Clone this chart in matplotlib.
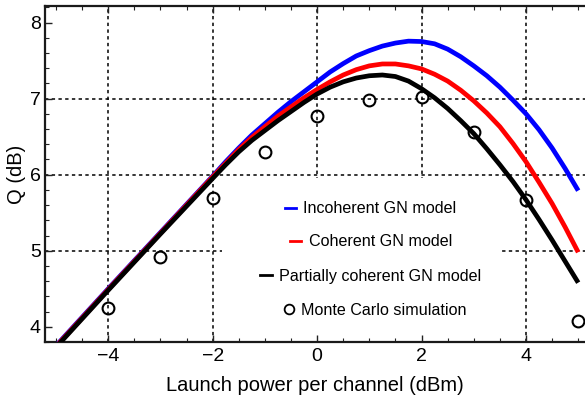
import matplotlib
matplotlib.use("Agg")
import matplotlib.pyplot as plt
from matplotlib.lines import Line2D
from matplotlib.legend import Legend
from matplotlib.patches import Rectangle

plt.rcParams['font.family'] = ['Liberation Sans', 'DejaVu Sans']

# ---- data ----
power = [-5, -4, -3, -2, -1.75, -1.5, -1.25,
         -1, -0.75, -0.5, -0.25, 0, 0.25, 0.5, 0.75, 1, 1.25, 1.5, 1.75,
         2, 2.25, 2.5, 2.75, 3, 3.25, 3.5, 3.75, 4, 4.25, 4.5, 4.75, 5]
q_incoherent = [3.75, 4.50, 5.24, 5.98, 6.17, 6.35, 6.52,
                6.67, 6.82, 6.96, 7.09, 7.22, 7.35, 7.46, 7.56, 7.63, 7.69, 7.73, 7.755,
                7.75, 7.72, 7.65, 7.55, 7.43, 7.30, 7.15, 6.98, 6.80, 6.59, 6.35, 6.08, 5.79]
q_coherent = [3.74, 4.49, 5.23, 5.97, 6.15, 6.33, 6.49,
              6.63, 6.77, 6.89, 7.01, 7.12, 7.22, 7.31, 7.38, 7.43, 7.455, 7.455, 7.43,
              7.39, 7.32, 7.23, 7.11, 6.97, 6.81, 6.63, 6.41, 6.17, 5.90, 5.62, 5.31, 4.98]
q_partial = [3.73, 4.48, 5.22, 5.95, 6.13, 6.30, 6.45,
             6.58, 6.71, 6.83, 6.95, 7.06, 7.15, 7.22, 7.27, 7.30, 7.31, 7.29, 7.23,
             7.13, 7.01, 6.87, 6.71, 6.54, 6.34, 6.13, 5.91, 5.67, 5.41, 5.14, 4.86, 4.58]

mc_power = [-4, -3, -2, -1, 0, 1, 2, 3, 4, 5]
mc_q = [4.25, 4.92, 5.69, 6.30, 6.77, 6.98, 7.02, 6.56, 5.67, 4.07]

x_grid = [-4, -2, 0, 2, 4]
y_grid = [5, 6, 7]

labels = ["Incoherent GN model", "Coherent GN model",
          "Partially coherent GN model", "Monte Carlo simulation"]

# ---- figure ----
fig = plt.figure(figsize=(5.85, 3.96), dpi=100)
ax = fig.add_axes([45/585, 54/396, 540/585, 336/396])

ax.set_xlim(-5.21, 5.13)
ax.set_ylim(3.923, 8.217)

grid_kw = dict(color='black', lw=1.1, ls=(0, (2.2, 2.2)), zorder=1)
for gx in x_grid:
    ax.axvline(gx, **grid_kw)
for gy in y_grid:
    ax.axhline(gy, **grid_kw)

# white legend background covering grid
ax.add_patch(Rectangle((0.328, 0.0), 0.515, 0.488, transform=ax.transAxes,
                       facecolor='white', edgecolor='none', zorder=1.5))

lw = 3.4
for ys, c in [(q_incoherent, '#0000ff'), (q_coherent, '#ff0000'), (q_partial, 'black')]:
    ax.plot(power, ys, color=c, lw=lw, zorder=3, solid_capstyle='butt',
            solid_joinstyle='round')
ax.plot(mc_power, mc_q, ls='none', marker='o', ms=8.5, mfc='none', mec='black',
        mew=1.5, zorder=4, clip_on=False)

# ticks
ax.set_xticks([-4, -2, 0, 2, 4])
ax.set_xticks([v * 0.5 for v in range(-10, 11)], minor=True)
ax.set_yticks([4, 5, 6, 7, 8])
ax.set_yticks([4 + 0.2 * i for i in range(-1, 22)], minor=True)
ax.tick_params(which='both', direction='in', top=True, right=False,
               labelsize=14, colors='#222222', labelcolor='black')
ax.tick_params(which='major', length=5, width=1)
ax.tick_params(which='minor', length=3, width=0.8)
ax.tick_params(axis='y', pad=3)
ax.tick_params(axis='x', pad=4)

for s in ['left', 'bottom', 'top']:
    ax.spines[s].set_linewidth(1.6)
    ax.spines[s].set_color('#1a1a1a')
ax.spines['right'].set_visible(False)

ax.set_xlabel("Launch power per channel (dBm)", fontsize=14.5, labelpad=8)
ax.set_ylabel("Q (dB)", fontsize=14.5, labelpad=3)

# legend rows, each centred (Mathematica style)
handles = [
    Line2D([], [], color='#0000ff', lw=2),
    Line2D([], [], color='#ff0000', lw=2),
    Line2D([], [], color='black', lw=2),
    Line2D([], [], ls='none', marker='o', ms=7, mfc='none', mec='black', mew=1.3),
]
rows_y = [0.396, 0.298, 0.196, 0.095]
rows_x = [0.603, 0.604, 0.603, 0.611]
for h, lab, xx, yy in zip(handles, labels, rows_x, rows_y):
    leg = Legend(ax, [h], [lab], loc='center', bbox_to_anchor=(xx, yy),
                 bbox_transform=ax.transAxes, frameon=False, fontsize=11.6,
                 handlelength=0.7, handletextpad=0.45, borderpad=0,
                 borderaxespad=0)
    leg.set_zorder(5)
    ax.add_artist(leg)

fig.savefig("out.png", dpi=100)
